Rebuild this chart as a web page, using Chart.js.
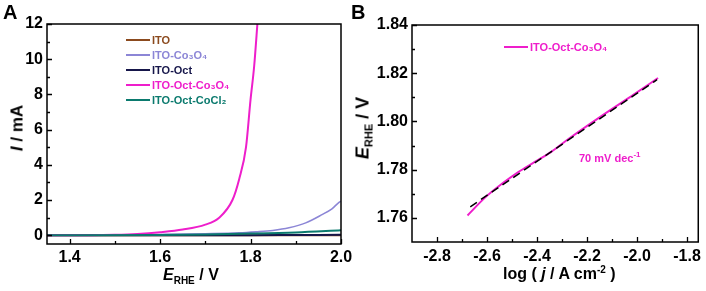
<!DOCTYPE html>
<html>
<head>
<meta charset="utf-8">
<script src="https://cdn.jsdelivr.net/npm/chart.js@4.4.0/dist/chart.umd.min.js"></script>
<style>
  body { margin: 0; background: #fff; }
  #page { position: relative; width: 706px; height: 291px; overflow: hidden; font-family: "Liberation Sans", Arial, sans-serif; font-weight: bold; color: #000; }
  #wrapA { position: absolute; left: 0; top: 0; width: 360px; height: 291px; }
  #wrapB { position: absolute; left: 340px; top: 0; width: 366px; height: 291px; }
  .txt { position: absolute; white-space: nowrap; line-height: 1; }
  .panel { font-size: 20px; }
  .title { font-size: 16px; }
  .title sub { font-size: 10px; vertical-align: -4px; }
  .title sup { font-size: 10px; vertical-align: 6px; }
  .rot { transform: translate(-50%, -50%) rotate(-90deg); }
</style>
</head>
<body>
<div id="page">
  <div id="wrapA"><canvas id="chartA" width="360" height="291"></canvas></div>
  <div id="wrapB"><canvas id="chartB" width="366" height="291"></canvas></div>

  <div class="txt panel" style="left:3px; top:2px;">A</div>
  <div class="txt panel" style="left:351px; top:2px;">B</div>

  <div class="txt title" style="left:163px; top:267px;"><i>E</i><sub>RHE</sub> / V</div>
  <div class="txt title rot" style="left:17px; top:128px; font-size:17px;"><i>I</i> / mA</div>

  <div class="txt title" style="left:503px; top:265px;">log ( <i>j</i> / A cm<sup>-2</sup> )</div>
  <div class="txt title rot" style="left:364px; top:128px; font-size:18px;"><i>E</i><sub style="font-size:11px;">RHE</sub> / V</div>

  <div class="txt" style="left:579px; top:151px; font-size:11px; color:#ee1ecb;">70 mV dec<sup style="font-size:8px; vertical-align:5px;">-1</sup></div>
</div>

<script>
// Panel A: linear sweeps, E_RHE (V) vs I (mA)
const itoE = [1.35, 1.6, 1.8, 2.0];
const itoI = [0, 0, 0, 0];

const itoCo3o4E = [1.35, 1.5, 1.6, 1.7, 1.775, 1.812, 1.849, 1.885, 1.922, 1.958, 1.98, 1.995, 2.0];
const itoCo3o4I = [0, 0.01, 0.04, 0.08, 0.13, 0.19, 0.27, 0.42, 0.7, 1.17, 1.5, 1.85, 1.93];

const itoOctE = [1.35, 1.8, 1.9, 2.0];
const itoOctI = [0, 0, 0.01, 0.02];

const octCo3o4E = [1.35, 1.45, 1.5, 1.55, 1.6, 1.65, 1.7, 1.73, 1.76, 1.775, 1.79, 1.8, 1.808, 1.816];
const octCo3o4I = [0, 0, 0.02, 0.07, 0.17, 0.32, 0.6, 0.98, 2.0, 3.2, 5.0, 7.7, 9.6, 12.3];

const octCoCl2E = [1.35, 1.6, 1.7, 1.8, 1.9, 2.0];
const octCoCl2I = [0, 0.01, 0.04, 0.09, 0.16, 0.28];

// Panel B: Tafel plot
const tafelLogJ = [-2.678, -2.608, -2.542, -2.475, -2.409, -2.343, -2.277, -2.144, -2.012, -1.916];
const tafelE = [1.761, 1.7684, 1.774, 1.779, 1.7832, 1.7874, 1.7925, 1.8021, 1.8112, 1.818];
const fitLogJ = [-2.667, -1.92];
const fitE = [1.7646, 1.8173];

// tick values (labelled majors, unlabelled minors)
const xMajorA = [1.4, 1.6, 1.8, 2.0];
const xMinorA = [1.5, 1.7, 1.9];
const yMajorA = [0, 2, 4, 6, 8, 10, 12];
const yMinorA = [1, 3, 5, 7, 9, 11];
const xMajorB = [-2.8, -2.6, -2.4, -2.2, -2.0, -1.8];
const xMinorB = [-2.7, -2.5, -2.3, -2.1, -1.9];
const yMajorB = [1.76, 1.78, 1.80, 1.82, 1.84];
const yMinorB = [1.77, 1.79, 1.81, 1.83];

const colors = {
    ito: '#8b4a1e',
    co3o4: '#8c86d6',
    oct: '#16164a',
    octCo3o4: '#ee1ecb',
    octCoCl2: '#0b7a6e'
};

Chart.defaults.font.family = '"Liberation Sans", Arial, sans-serif';
Chart.defaults.font.weight = 'bold';
Chart.defaults.font.size = 16;
Chart.defaults.color = '#000';

function pts(xs, ys) {
    return xs.map((x, i) => ({ x: x, y: ys[i] }));
}

function isIn(list, v) {
    return list.some(m => Math.abs(m - v) < 1e-6);
}

function buildTicks(major, minor) {
    return (scale) => {
        scale.ticks = major.concat(minor).sort((a, b) => a - b).map(v => ({ value: v }));
    };
}

function tickLabel(major, digits) {
    return (v) => isIn(major, v) ? v.toFixed(digits) : '';
}

// box around the plot and inward tick marks
const frameTicks = {
    id: 'frameTicks',
    afterDraw(chart) {
        const { ctx, chartArea: a, scales } = chart;
        ctx.save();
        ctx.strokeStyle = '#000';
        ctx.lineWidth = 1.5;
        ctx.strokeRect(a.left, a.top, a.right - a.left, a.bottom - a.top);
        ctx.lineWidth = 1.3;
        ctx.beginPath();
        scales.x.ticks.forEach(t => {
            const px = Math.round(scales.x.getPixelForValue(t.value)) + 0.5;
            const len = t.label !== '' ? 5 : 3;
            ctx.moveTo(px, a.bottom);
            ctx.lineTo(px, a.bottom - len);
        });
        scales.y.ticks.forEach(t => {
            const py = Math.round(scales.y.getPixelForValue(t.value)) + 0.5;
            const len = t.label !== '' ? 5 : 3;
            ctx.moveTo(a.left, py);
            ctx.lineTo(a.left + len, py);
        });
        ctx.stroke();
        ctx.restore();
    }
};

// legend drawn inside the plot area
const innerLegend = {
    id: 'innerLegend',
    afterDraw(chart, args, opts) {
        const ctx = chart.ctx;
        ctx.save();
        ctx.font = 'bold 11px "Liberation Sans", Arial, sans-serif';
        ctx.textBaseline = 'middle';
        let y = opts.y;
        chart.data.datasets.forEach(ds => {
            if (ds.noLegend) return;
            ctx.strokeStyle = ds.borderColor;
            ctx.lineWidth = 2;
            ctx.beginPath();
            ctx.moveTo(opts.x, y);
            ctx.lineTo(opts.x + opts.len, y);
            ctx.stroke();
            ctx.fillStyle = ds.borderColor;
            ctx.fillText(ds.label, opts.x + opts.len + 2, y + 0.5);
            y += opts.row;
        });
        ctx.restore();
    }
};

function lineSet(label, xs, ys, color, width, order) {
    return {
        label: label,
        data: pts(xs, ys),
        borderColor: color,
        backgroundColor: color,
        borderWidth: width,
        pointRadius: 0,
        fill: false,
        cubicInterpolationMode: 'monotone',
        order: order
    };
}

const noGrid = { display: false, drawTicks: false, tickLength: 0 };

new Chart(document.getElementById('chartA'), {
    type: 'line',
    data: {
        datasets: [
            lineSet('ITO', itoE, itoI, colors.ito, 2, 4),
            lineSet('ITO-Co\u2083O\u2084', itoCo3o4E, itoCo3o4I, colors.co3o4, 1.6, 3),
            lineSet('ITO-Oct', itoOctE, itoOctI, colors.oct, 2, 2),
            lineSet('ITO-Oct-Co\u2083O\u2084', octCo3o4E, octCo3o4I, colors.octCo3o4, 2, 1),
            lineSet('ITO-Oct-CoCl\u2082', octCoCl2E, octCoCl2I, colors.octCoCl2, 2, 0)
        ]
    },
    options: {
        responsive: false,
        animation: false,
        layout: { padding: { left: 0, right: 19, top: 24, bottom: 0 } },
        plugins: {
            legend: { display: false },
            tooltip: { enabled: false },
            innerLegend: { x: 126, y: 40, row: 15, len: 24 }
        },
        scales: {
            x: {
                type: 'linear',
                min: 1.35,
                max: 2.0,
                grid: noGrid,
                border: { display: false },
                ticks: { autoSkip: false, maxRotation: 0, padding: 4, callback: tickLabel(xMajorA, 1) },
                afterBuildTicks: buildTicks(xMajorA, xMinorA),
                afterFit: (s) => { s.height = 47; }
            },
            y: {
                type: 'linear',
                min: -0.5,
                max: 12,
                grid: noGrid,
                border: { display: false },
                ticks: { autoSkip: false, padding: 4, callback: tickLabel(yMajorA, 0) },
                afterBuildTicks: buildTicks(yMajorA, yMinorA),
                afterFit: (s) => { s.width = 47; }
            }
        }
    },
    plugins: [frameTicks, innerLegend]
});

new Chart(document.getElementById('chartB'), {
    type: 'line',
    data: {
        datasets: [
            lineSet('ITO-Oct-Co\u2083O\u2084', tafelLogJ, tafelE, colors.octCo3o4, 2, 1),
            Object.assign(lineSet('fit', fitLogJ, fitE, '#000', 1.5, 0), { borderDash: [8, 5], noLegend: true })
        ]
    },
    options: {
        responsive: false,
        animation: false,
        layout: { padding: { left: 0, right: 5, top: 25, bottom: 0 } },
        plugins: {
            legend: { display: false },
            tooltip: { enabled: false },
            innerLegend: { x: 164, y: 47, row: 15, len: 24 }
        },
        scales: {
            x: {
                type: 'linear',
                min: -2.9,
                max: -1.755,
                grid: noGrid,
                border: { display: false },
                ticks: { autoSkip: false, maxRotation: 0, padding: 5, callback: tickLabel(xMajorB, 1) },
                afterBuildTicks: buildTicks(xMajorB, xMinorB),
                afterFit: (s) => { s.height = 49; }
            },
            y: {
                type: 'linear',
                min: 1.75,
                max: 1.84,
                grid: noGrid,
                border: { display: false },
                ticks: { autoSkip: false, padding: 4, callback: tickLabel(yMajorB, 2) },
                afterBuildTicks: buildTicks(yMajorB, yMinorB),
                afterFit: (s) => { s.width = 72; }
            }
        }
    },
    plugins: [frameTicks, innerLegend]
});
</script>
</body>
</html>
